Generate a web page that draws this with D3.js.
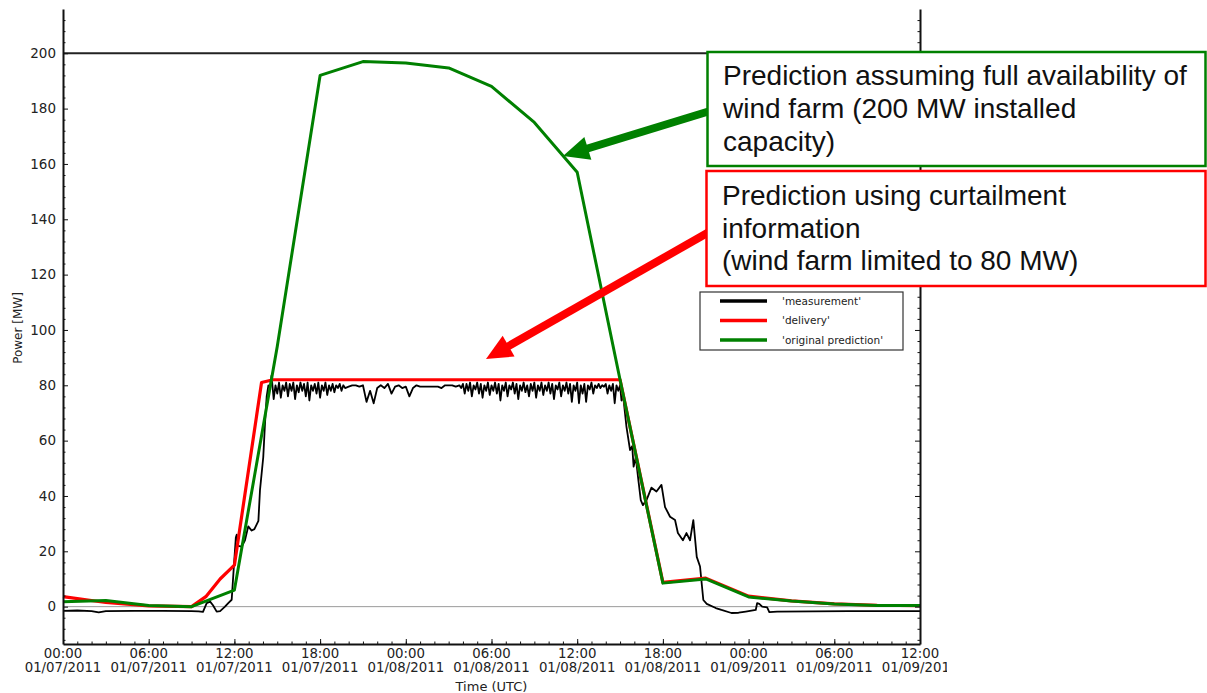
<!DOCTYPE html>
<html><head><meta charset="utf-8">
<script src="https://cdn.jsdelivr.net/npm/d3@7"></script>
<style>body{margin:0;background:#fff} svg{display:block}</style>
</head><body><svg id="c" width="1207" height="693"></svg>
<script>
// ---- data (hours since 01/07/2011 00:00 UTC, power in MW) ----
const predHours = [0,3,6,9,12,15,18,21,24,27,30,33,36,39,42,45,48,51,54,57,60];
const predMW    = [1.8,2.2,0.4,0,6,94,192,197,196.5,194.7,188,175,157,82,8.5,10,3.5,2,1,0.4,0.4];

const delivHours = [0,3,6,9,10,11,12,13.9,14.7,39,42,45,48,51,54,57,60];
const delivMW    = [3.6,1.5,0.3,0,3.6,10,15,81,82,82,8.8,10.3,3.8,2.1,1,0.5,0.4];

const measurement = [
 [0,-1.5],[1,-1.4],[2,-1.6],[2.5,-2.1],[3,-1.6],[5,-1.5],[7,-1.5],[9,-1.6],[9.5,-1.7],[9.8,-1.9],
 [10.06,1.3],[10.3,1.8],[10.5,0.5],[10.76,-1.8],[11,-1.6],[11.34,0],[11.57,1.3],[11.81,2.5],[11.93,12],
 [12.1,25],[12.16,26],[12.27,22],[12.51,21.7],[12.74,24],[12.97,29],[13.21,27.5],[13.4,28],[13.68,31],
 [13.79,42],[14.02,54],[14.14,66],[14.26,76],[14.38,80],
 [14.5,79],[14.6,83.5],[14.75,75],[14.875,80],[15,77],[15.125,81],[15.25,75.5],[15.375,80],[15.5,78],
 [15.625,81],[15.75,76],[15.875,80.5],[16,78],[16.125,81],[16.25,75],[16.375,80],[16.5,77.5],[16.625,81],
 [16.75,78],[16.875,80.5],[17,76],[17.125,81],[17.25,74.5],[17.375,80],[17.5,78],[17.625,80.5],[17.75,77],
 [17.875,81],[18,75.5],[18.125,80],[18.25,78],[18.375,81],[18.5,76.5],[18.625,80],[18.75,78],[18.875,80.5],
 [19,77.5],[19.125,80],[19.25,79],[19.375,80.5],[19.5,78],[19.625,80],[19.75,79],
 [20,79.5],[20.25,80],[20.5,80],[20.75,79.5],[21,80],
 [21.25,74],[21.5,78],[21.75,73.5],[22,79],[22.25,80],[22.5,79],[22.75,80.5],[23,77],[23.25,79.5],
 [23.5,80],[23.75,79],[24,79.5],[24.25,76],[24.5,79],[24.75,80],[25,79.5],[25.25,79.5],[25.5,79.5],
 [25.75,79.5],[26,79.5],[26.25,79.5],[26.5,79],[26.75,80],[27,80],[27.25,80],[27.5,79.5],
 [27.75,80],[27.875,79],[28,80.5],[28.125,77],[28.25,80.5],[28.375,78],[28.5,81],[28.625,76],[28.75,80],
 [28.875,78.5],[29,81],[29.125,77],[29.25,80.5],[29.375,75.5],[29.5,80],[29.625,78],[29.75,81],[29.875,76.5],
 [30,80],[30.125,78],[30.25,81],[30.375,77],[30.5,80.5],[30.625,74.5],[30.75,80],[30.875,78],[31,81],
 [31.125,76],[31.25,80],[31.375,78.5],[31.5,81],[31.625,77],[31.75,80.5],[31.875,75],[32,80],[32.125,78],
 [32.25,81],[32.375,77.5],[32.5,80],[32.625,76],[32.75,80.5],[32.875,78],[33,81],[33.125,75.5],[33.25,80],
 [33.375,78],[33.5,81],[33.625,76.5],[33.75,80],[33.875,78],[34,81],[34.125,77],[34.25,80.5],[34.375,75],
 [34.5,80],[34.625,78.5],[34.75,81],[34.875,76],[35,80],[35.125,78],[35.25,81],[35.375,77],[35.5,80.5],
 [35.625,74],[35.75,80],[35.875,78],[36,81],[36.125,73.5],[36.25,80],[36.375,77],[36.5,80.5],[36.625,74],
 [36.75,80],[36.875,78.5],[37,81],[37.125,77],[37.25,80],[37.375,79],[37.5,80.5],[37.625,79],[37.75,80],
 [37.875,79.5],[38,80.5],[38.125,77],[38.25,80],[38.375,78],[38.5,80.5],[38.625,73.5],[38.75,80],[38.875,78],
 [39,80],[39.1,74.5],
 [39.2,77],[39.45,65],[39.7,56.6],[39.85,58],[39.95,50.6],[40.1,54],[40.3,45],[40.45,38.5],[40.6,36.7],
 [40.85,38.5],[41.2,43],[41.55,41.6],[41.9,44],[42.15,36],[42.5,32.5],[42.85,31.3],[43.05,26.6],
 [43.4,24],[43.65,26.6],[43.9,24],[44.13,31.3],[44.37,18],[44.6,14.5],[44.83,2.4],[45.07,1],
 [45.7,-0.5],[46.1,-1.2],[46.8,-2.3],[47.3,-2.2],[47.8,-1.8],[48.5,-1.2],[48.6,1.3],[48.75,1],
 [48.95,0],[49.3,-0.3],[49.45,-2],[50,-1.8],[55,-1.6],[60,-1.6]
];

const yTicks = [0,20,40,60,80,100,120,140,160,180,200];
const legendLabels = ["'measurement'","'delivery'","'original prediction'"];
const legendColors = ["#000000","#ff0000","#008000"];
const noteGreen = ["Prediction assuming full availability of","wind farm (200 MW installed","capacity)"];
const noteRed = ["Prediction using curtailment","information","(wind farm limited to 80 MW)"];

// ---- drawing ----
const svg = d3.select("#c");
svg.append("defs").append("clipPath").attr("id","crop")
  .append("rect").attr("x",0).attr("y",0).attr("width",947).attr("height",693);
const base = Date.UTC(2011,0,7,0,0);
const toDate = h => new Date(base + h*3600e3);
const x = d3.scaleUtc().domain([toDate(0), toDate(60)]).range([63, 920]);
const y = d3.scaleLinear().domain([-13.5, 216]).range([644, 9]);
const tickFont = "'DejaVu Sans', sans-serif";

// reference lines
svg.append("line").attr("x1",63).attr("x2",920).attr("y1",y(0)).attr("y2",y(0))
  .attr("stroke","#9a9a9a").attr("stroke-width",1);
svg.append("line").attr("x1",63).attr("x2",920).attr("y1",y(200)).attr("y2",y(200))
  .attr("stroke","#222").attr("stroke-width",2);

const line = d3.line().x(d => x(toDate(d[0]))).y(d => y(d[1]));
svg.append("path").datum(measurement).attr("d", line)
  .attr("fill","none").attr("stroke","#000").attr("stroke-width",1.8).attr("stroke-linejoin","round");
svg.append("path").datum(d3.zip(delivHours, delivMW)).attr("d", line)
  .attr("fill","none").attr("stroke","#ff0000").attr("stroke-width",3.2).attr("stroke-linejoin","round");
svg.append("path").datum(d3.zip(predHours, predMW)).attr("d", line)
  .attr("fill","none").attr("stroke","#008000").attr("stroke-width",3).attr("stroke-linejoin","round");

// y axis (left + right minor ticks)
const yAxis = svg.append("g").attr("transform","translate(63,0)")
  .call(d3.axisLeft(y).tickValues(yTicks).tickSizeInner(-5).tickSizeOuter(0).tickPadding(7));
yAxis.select(".domain").attr("stroke","#111").attr("stroke-width",2);
yAxis.selectAll(".tick line").attr("stroke","#111");
yAxis.selectAll("text").attr("font-family",tickFont).attr("font-size",13.5).attr("fill","#222");
const yMinor = d3.range(-12, 216, 4).filter(v => v % 20 !== 0);
svg.append("g").attr("transform","translate(63,0)")
  .call(d3.axisLeft(y).tickValues(yMinor).tickSize(-2.5).tickFormat(""))
  .call(g => { g.select(".domain").remove(); g.selectAll("line").attr("stroke","#111"); });
const yR = svg.append("g").attr("transform","translate(920,0)")
  .call(d3.axisRight(y).tickValues(yTicks).tickSizeInner(-5).tickSizeOuter(0).tickFormat(""));
yR.select(".domain").attr("stroke","#111").attr("stroke-width",2);
yR.selectAll("line").attr("stroke","#111");
svg.append("g").attr("transform","translate(920,0)")
  .call(d3.axisRight(y).tickValues(yMinor).tickSize(-2.5).tickFormat(""))
  .call(g => { g.select(".domain").remove(); g.selectAll("line").attr("stroke","#111"); });

// x axis
const xMajor = d3.utcHour.every(6).range(toDate(0), toDate(60.01));
const xAxis = svg.append("g").attr("transform","translate(0,644)")
  .call(d3.axisBottom(x).tickValues(xMajor).tickSizeInner(-5).tickSizeOuter(0).tickFormat(""));
xAxis.select(".domain").attr("stroke","#111").attr("stroke-width",2);
xAxis.selectAll("line").attr("stroke","#111");
svg.append("g").attr("transform","translate(0,644)")
  .call(d3.axisBottom(x).tickValues(d3.utcHour.every(1).range(toDate(0), toDate(60))).tickSize(-2.5).tickFormat(""))
  .call(g => { g.select(".domain").remove(); g.selectAll("line").attr("stroke","#111"); });
const fH = d3.utcFormat("%H:%M"), fD = d3.utcFormat("%m/%d/%Y");
const xl = svg.append("g").attr("clip-path","url(#crop)").selectAll("text").data(xMajor).join("text")
  .attr("x", d => x(d)).attr("text-anchor","middle")
  .attr("font-family",tickFont).attr("font-size",13.3).attr("fill","#222");
xl.append("tspan").attr("x", d => x(d)).attr("y",657.5).text(d => fH(d));
xl.append("tspan").attr("x", d => x(d)).attr("y",672).text(d => fD(d));

svg.append("text").attr("x",491.5).attr("y",691).attr("text-anchor","middle")
  .attr("font-family",tickFont).attr("font-size",13).attr("fill","#222").text("Time (UTC)");
svg.append("text").attr("transform","translate(22,328) rotate(-90)").attr("text-anchor","middle")
  .attr("font-family",tickFont).attr("font-size",12).attr("fill","#222").text("Power [MW]");

// legend
const lg = svg.append("g");
lg.append("rect").attr("x",700).attr("y",292).attr("width",203).attr("height",58)
  .attr("fill","#fff").attr("stroke","#333").attr("stroke-width",1.2);
legendLabels.forEach((t,i) => {
  const yy = 301 + i*19.5;
  lg.append("line").attr("x1",720).attr("x2",767).attr("y1",yy).attr("y2",yy)
    .attr("stroke",legendColors[i]).attr("stroke-width",3.5);
  lg.append("text").attr("x",782).attr("y",yy+3.5).attr("font-family",tickFont)
    .attr("font-size",10.5).attr("fill","#222").text(t);
});

// annotation arrows
function arrow(x0,y0,x1,y1,color,w,hl,hw){
  const dx=x1-x0, dy=y1-y0, L=Math.hypot(dx,dy), ux=dx/L, uy=dy/L, px=-uy, py=ux;
  const bx=x1-ux*hl, by=y1-uy*hl;
  svg.append("line").attr("x1",x0).attr("y1",y0).attr("x2",bx+ux*2).attr("y2",by+uy*2)
    .attr("stroke",color).attr("stroke-width",w);
  svg.append("polygon").attr("points",[[x1,y1],[bx+px*hw,by+py*hw],[bx-px*hw,by-py*hw]].map(p=>p.join(",")).join(" "))
    .attr("fill",color);
}
arrow(710,111,563,156,"#008000",8,26,12);
arrow(709,232,486,359,"#ff0000",8,26,12);

// annotation boxes
function note(x0,y0,w,h,color,lines,baselines){
  svg.append("rect").attr("x",x0).attr("y",y0).attr("width",w).attr("height",h)
    .attr("fill","#fff").attr("stroke",color).attr("stroke-width",2.5);
  lines.forEach((t,i)=> svg.append("text").attr("x",x0+15.5).attr("y",baselines[i])
    .attr("font-family","'Liberation Sans', Arial, sans-serif").attr("font-size",28).attr("fill","#111").text(t));
}
note(707.5,52,498,114,"#008000",noteGreen,[85,118,150.5]);
note(706.5,171,499,115,"#ff0000",noteRed,[205,237.5,270]);
</script></body></html>
